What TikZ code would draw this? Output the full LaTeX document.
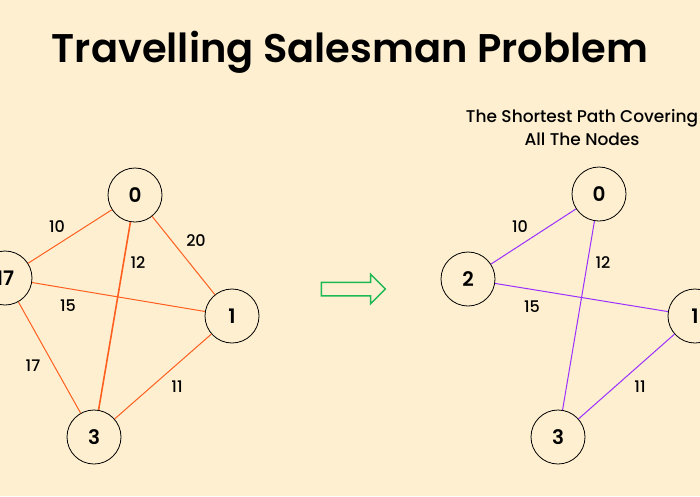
\documentclass[tikz,border=0pt]{standalone}
\usepackage{fontspec}
\setmainfont{Poppins}[BoldFont={Poppins Medium}]
\newfontfamily\heavyfont{Poppins SemiBold}
\usetikzlibrary{shapes.arrows}

\definecolor{paper}{HTML}{FDEFD0}
\definecolor{roadorange}{HTML}{FF5F1F}
\definecolor{tourpurple}{HTML}{9B30FF}
\definecolor{arrowgreen}{HTML}{1DB954}

\tikzstyle{city} = [circle, 
minimum size=54pt, 
inner sep=0pt,
draw=black, 
line width=0.8pt,
fill=paper,
font=\fontsize{20}{20}\selectfont\heavyfont]
\tikzstyle{cost} = [inner sep=0pt,
font=\fontsize{16}{16}\selectfont\bfseries]
\tikzstyle{road} = [draw=roadorange, line width=1pt]
\tikzstyle{tour} = [draw=tourpurple, line width=1pt]

\begin{document}
\begin{tikzpicture}[x=1pt, y=-1pt]
\useasboundingbox (0,0) rectangle (700,496);
\clip (0,0) rectangle (700,496);
\fill [paper] (0,0) rectangle (700,496);

\node (title) at (350,52) {\fontsize{40}{40}\selectfont\heavyfont Travelling Salesman Problem};
\node (subtitle) [align=center, font=\fontsize{17}{23}\selectfont\bfseries] at (582,128) {The Shortest Path Covering\\All The Nodes};

% all roads
\node (a0) [city] at (135,195) {0};
\node (a1) [city] at (232,316) {1};
\node (a2) [city] at (5,278) {17};
\node (a3) [city] at (94,437) {3};

\draw [road] (a2) -- (a0);
\draw [road] (a0) -- (a1);
\draw [road, line width=1.6pt] (a0) -- (a3);
\draw [road] (a2) -- (a1);
\draw [road] (a2) -- (a3);
\draw [road] (a1) -- (a3);

\node (c20) [cost] at (57,227) {10};
\node (c01) [cost] at (196,241) {20};
\node (c03) [cost] at (138,263) {12};
\node (c21) [cost] at (68,306) {15};
\node (c23) [cost] at (33,366) {17};
\node (c13) [cost] at (177,387) {11};

% arrow
\node (go) [single arrow, draw=arrowgreen, line width=1.5pt, fill=paper,
minimum height=64pt, minimum width=28pt, inner sep=6pt,
single arrow head extend=8pt] at (350,289) {};

% shortest tour
\node (b0) [city] at (599,194) {0};
\node (b1) [city] at (695,316) {1};
\node (b2) [city] at (468,279) {2};
\node (b3) [city] at (558,437) {3};

\draw [tour] (b2) -- (b0);
\draw [tour] (b0) -- (b3);
\draw [tour] (b2) -- (b1);
\draw [tour] (b1) -- (b3);

\node (d20) [cost] at (520,227) {10};
\node (d03) [cost] at (603,263) {12};
\node (d21) [cost] at (532,307) {15};
\node (d13) [cost] at (640,387) {11};
\end{tikzpicture}
\end{document}
